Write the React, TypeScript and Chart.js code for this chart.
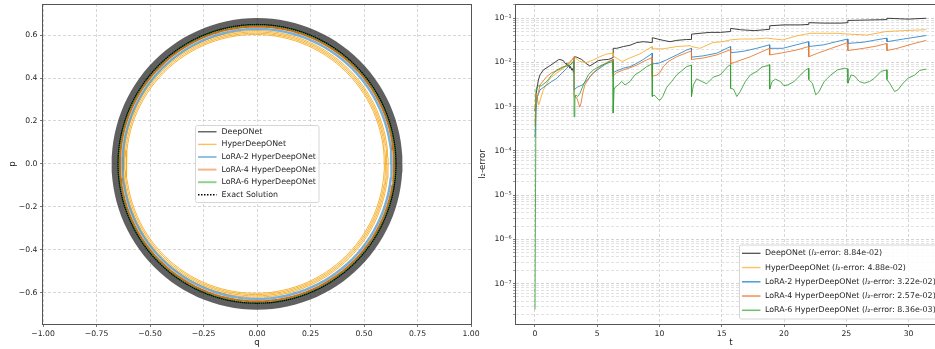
import React, { useEffect, useRef } from 'react';
import { Chart, registerables } from 'chart.js';

Chart.register(...registerables);

const FONT = '"DejaVu Sans", "Liberation Sans", sans-serif';

// ---------------- Left panel: phase portrait (q, p) ----------------
// radius of each traced loop of every model
const deepOnetLoopRadii = [0.652, 0.6547, 0.6574, 0.6601, 0.6628, 0.6655, 0.6682, 0.6709, 0.6736, 0.6763];
const hyperLoopRadii = [0.603, 0.609, 0.615, 0.621];
const lora2LoopRadii = [0.626, 0.629, 0.632];
const lora4LoopRadii = [0.639, 0.642];
const lora6LoopRadii = [0.646, 0.649];
const exactLoopRadii = [0.6495];
const hyperLoopCentreQ = -0.008;

const phaseLabels = [
  'DeepONet',
  'HyperDeepONet',
  'LoRA-2 HyperDeepONet',
  'LoRA-4 HyperDeepONet',
  'LoRA-6 HyperDeepONet',
  'Exact Solution',
];

const qTicks = [-1, -0.75, -0.5, -0.25, 0, 0.25, 0.5, 0.75, 1];
const qTickLabels = ['−1.00', '−0.75', '−0.50', '−0.25', '0.00', '0.25', '0.50', '0.75', '1.00'];
const pTicks = [-0.6, -0.4, -0.2, 0, 0.2, 0.4, 0.6];
const pTickLabels = ['−0.6', '−0.4', '−0.2', '0.0', '0.2', '0.4', '0.6'];

// ---------------- Right panel: l2-error vs t ----------------
const errorLabels = [
  'DeepONet (l₂-error: 8.84e-02)',
  'HyperDeepONet (l₂-error: 4.88e-02)',
  'LoRA-2 HyperDeepONet (l₂-error: 3.22e-02)',
  'LoRA-4 HyperDeepONet (l₂-error: 2.57e-02)',
  'LoRA-6 HyperDeepONet (l₂-error: 8.36e-03)',
];

// [t, l2-error]
const deepOnetError: [number, number][] = [
  [0, 8e-4], [0.1, 2e-3], [0.27, 4e-3], [0.4, 5.25e-3], [0.67, 6.76e-3], [1.08, 8.04e-3],
  [1.48, 9.55e-3], [1.88, 1.15e-2], [2.0, 1.17e-2], [2.28, 1.1e-2], [2.4, 9.8e-3], [2.5, 9.0e-3],
  [2.55, 9.6e-3], [2.65, 8.2e-3], [2.7, 8.9e-3], [2.8, 7.4e-3], [2.85, 8.1e-3], [2.95, 6.7e-3],
  [3.0, 7.3e-3], [3.1, 6.0e-3], [3.14, 1.35e-2], [3.35, 1.32e-2], [3.75, 1.17e-2], [4.15, 9.33e-3],
  [4.4, 8.32e-3], [4.68, 9.33e-3], [5.08, 1.1e-2], [5.49, 1.15e-2], [5.9, 1.17e-2], [6.27, 1.29e-2],
  [6.28, 2.09e-2], [6.56, 2.09e-2], [7.1, 2.29e-2], [7.63, 2.45e-2], [8.17, 2.82e-2], [8.7, 2.95e-2],
  [9.41, 2.82e-2], [9.42, 3.63e-2], [10.3, 3.16e-2], [10.85, 2.95e-2], [11.38, 3.16e-2], [12.18, 3.31e-2],
  [12.56, 3.31e-2], [12.57, 4.37e-2], [13.25, 4.57e-2], [14.06, 4.79e-2], [14.9, 4.79e-2], [15.70, 5.01e-2],
  [15.71, 5.89e-2], [16.5, 5.5e-2], [17.6, 5.25e-2], [18.84, 5.62e-2], [18.85, 6.76e-2], [20.0, 7.08e-2],
  [21.3, 7.08e-2], [21.98, 7.24e-2], [21.99, 7.94e-2], [23.2, 7.76e-2], [24.6, 7.76e-2], [25.12, 7.94e-2],
  [25.13, 8.91e-2], [26.7, 9.12e-2], [28.26, 9.33e-2], [28.27, 0.1], [29.96, 9.55e-2], [31.42, 0.1],
];

const hyperError: [number, number][] = [
  [0, 8.5e-4], [0.1, 2.0e-3], [0.3, 1.1e-3], [0.67, 2.4e-3], [1.2, 4.37e-3], [1.74, 5.75e-3],
  [2.28, 7.41e-3], [2.81, 9.55e-3], [3.13, 1.35e-2], [3.6, 1.05e-2], [4.15, 1.0e-2], [4.7, 1.15e-2],
  [5.2, 1.35e-2], [5.75, 1.55e-2], [6.27, 1.62e-2], [6.28, 1.4e-2], [7.0, 1.05e-2], [7.6, 1.26e-2],
  [8.4, 1.55e-2], [9.41, 2.29e-2], [9.42, 2.04e-2], [10.3, 2.04e-2], [11.4, 2.29e-2], [12.45, 2.4e-2],
  [12.57, 2.29e-2], [13.25, 2.09e-2], [14.3, 2.82e-2], [15.1, 2.95e-2], [15.7, 3.24e-2], [16.5, 3.39e-2],
  [17.6, 3.39e-2], [18.6, 3.55e-2], [19.9, 3.24e-2], [21.0, 3.98e-2], [22.1, 4.57e-2], [24.2, 4.57e-2],
  [25.3, 4.37e-2], [26.7, 4.17e-2], [28.2, 5.01e-2], [29.6, 5.25e-2], [31.42, 5.5e-2],
];

const lora2Error: [number, number][] = [
  [0, 2e-4], [0.08, 8.5e-4], [0.2, 1.7e-3], [0.4, 2.4e-3], [0.94, 3.09e-3], [1.35, 3.72e-3],
  [1.75, 4.37e-3], [2.15, 5.7e-3], [2.55, 7.4e-3], [2.95, 9.55e-3], [3.13, 1.1e-2], [3.14, 2.4e-3],
  [3.38, 2.75e-3], [3.79, 3.09e-3], [4.2, 3.98e-3], [4.6, 5.5e-3], [5.0, 6.76e-3], [5.55, 8.7e-3],
  [6.08, 1.1e-2], [6.27, 1.17e-2], [6.28, 5.89e-3], [6.56, 6.46e-3], [7.1, 7.41e-3], [7.63, 8.04e-3],
  [8.17, 9.55e-3], [8.7, 1.17e-2], [9.24, 1.48e-2], [9.41, 1.62e-2], [9.42, 9.33e-3], [9.91, 9.55e-3],
  [10.58, 1.15e-2], [11.38, 1.48e-2], [12.18, 1.91e-2], [12.56, 2.09e-2], [12.57, 1.32e-2], [13.5, 1.41e-2],
  [14.6, 1.62e-2], [15.4, 2.09e-2], [15.70, 2.29e-2], [15.71, 1.66e-2], [16.7, 1.78e-2], [17.8, 2.09e-2],
  [18.84, 2.51e-2], [18.85, 2.09e-2], [19.9, 2.09e-2], [21.0, 2.51e-2], [21.98, 2.95e-2], [21.99, 2.29e-2],
  [23.2, 2.51e-2], [24.2, 2.95e-2], [25.12, 3.39e-2], [25.13, 2.69e-2], [26.4, 2.88e-2], [27.4, 3.24e-2],
  [28.26, 3.55e-2], [28.27, 2.95e-2], [29.6, 3.39e-2], [31.42, 4.07e-2],
];

const lora4Error: [number, number][] = [
  [0, 4e-4], [0.08, 1.2e-3], [0.2, 1.7e-3], [0.4, 3.09e-3], [0.94, 4.79e-3], [1.35, 5.89e-3],
  [1.75, 6.46e-3], [2.15, 7.41e-3], [2.55, 8.71e-3], [2.95, 1.15e-2], [3.13, 1.29e-2], [3.14, 1.7e-3],
  [3.35, 1.6e-3], [3.5, 1.2e-3], [3.59, 9.8e-4], [3.7, 1.2e-3], [3.83, 2.0e-3], [4.0, 3.09e-3],
  [4.44, 4.9e-3], [4.84, 6.46e-3], [5.22, 8.04e-3], [5.75, 1.0e-2], [6.27, 1.17e-2], [6.28, 4.9e-3],
  [6.56, 5.89e-3], [7.1, 6.76e-3], [7.63, 7.59e-3], [8.17, 8.71e-3], [8.7, 1.05e-2], [9.24, 1.23e-2],
  [9.41, 1.29e-2], [9.42, 4.9e-3], [9.78, 5.2e-3], [10.04, 5.9e-3], [10.3, 8.0e-3], [10.7, 1.05e-2],
  [11.38, 1.35e-2], [12.18, 1.66e-2], [12.56, 1.82e-2], [12.57, 1.17e-2], [13.5, 1.26e-2], [14.6, 1.48e-2],
  [15.70, 1.95e-2], [15.71, 9.3e-3], [16.2, 1.05e-2], [17.3, 1.35e-2], [18.84, 2.09e-2], [18.85, 1.48e-2],
  [19.9, 1.66e-2], [21.0, 1.91e-2], [21.98, 2.29e-2], [21.99, 1.35e-2], [22.7, 1.62e-2], [23.8, 2.09e-2],
  [25.12, 2.82e-2], [25.13, 1.86e-2], [26.4, 2.09e-2], [27.4, 2.34e-2], [28.26, 2.69e-2], [28.27, 1.86e-2],
  [29.1, 2.09e-2], [30.2, 2.57e-2], [31.42, 3.16e-2],
];

const lora6Error: [number, number][] = [
  [0, 2.6e-8], [0.08, 2.4e-3], [0.2, 2.95e-3], [0.5, 2.95e-3], [0.95, 3.72e-3], [1.35, 5.25e-3],
  [1.75, 6.76e-3], [2.3, 8.04e-3], [2.8, 8.71e-3], [3.13, 1.05e-2], [3.14, 5.9e-4], [3.2, 1.5e-3],
  [3.27, 1.84e-3], [3.43, 1.7e-3], [3.61, 2.0e-3], [3.88, 3.09e-3], [4.28, 5.25e-3], [4.68, 6.76e-3],
  [5.22, 8.32e-3], [5.75, 9.55e-3], [6.27, 1.05e-2], [6.28, 7.2e-4], [6.35, 2.4e-3], [6.43, 2.75e-3],
  [6.69, 3.09e-3], [6.96, 3.72e-3], [7.23, 3.09e-3], [7.63, 3.72e-3], [8.03, 5.25e-3], [8.43, 6.17e-3],
  [8.97, 8.04e-3], [9.41, 9.33e-3], [9.42, 1.7e-3], [9.56, 1.84e-3], [9.7, 1.7e-3], [9.91, 1.45e-3],
  [10.04, 1.4e-3], [10.26, 1.7e-3], [10.58, 2.75e-3], [10.98, 3.72e-3], [11.38, 5.25e-3], [11.78, 6.46e-3],
  [12.18, 8.04e-3], [12.56, 8.7e-3], [12.57, 1.7e-3], [12.72, 3.09e-3], [12.98, 4.27e-3], [13.39, 3.72e-3],
  [13.79, 3.3e-3], [14.33, 4.68e-3], [14.87, 5.25e-3], [15.54, 8.4e-3], [15.70, 8.9e-3], [15.71, 2.6e-3],
  [15.94, 2.5e-3], [16.21, 1.7e-3], [16.48, 2.2e-3], [16.89, 3.7e-3], [17.29, 5.2e-3], [17.83, 6.3e-3],
  [18.23, 7.9e-3], [18.64, 8.4e-3], [18.84, 8.9e-3], [18.85, 2.5e-3], [19.04, 3.7e-3], [19.31, 4.2e-3],
  [19.72, 3.7e-3], [19.99, 3.0e-3], [20.31, 3.1e-3], [20.8, 3.7e-3], [21.33, 5.2e-3], [21.74, 6.8e-3],
  [21.98, 7.4e-3], [21.99, 4.1e-3], [22.28, 3.4e-3], [22.55, 1.85e-3], [22.82, 2.2e-3], [23.22, 3.7e-3],
  [23.76, 5.2e-3], [24.3, 6.8e-3], [24.84, 7.4e-3], [25.12, 7.2e-3], [25.13, 3.4e-3], [25.38, 5.2e-3],
  [25.65, 5.0e-3], [26.05, 3.7e-3], [26.46, 3.4e-3], [26.86, 3.7e-3], [27.26, 4.4e-3], [27.8, 6.3e-3],
  [28.26, 6.8e-3], [28.27, 4.1e-3], [28.48, 3.4e-3], [28.88, 2.2e-3], [29.15, 2.4e-3], [29.56, 3.4e-3],
  [29.96, 4.4e-3], [30.5, 5.2e-3], [30.9, 6.6e-3], [31.42, 7.1e-3],
];

const tTicks = [0, 5, 10, 15, 20, 25, 30];
const tTickLabels = ['0', '5', '10', '15', '20', '25', '30'];
const errorMajorTicks = [1e-7, 1e-6, 1e-5, 1e-4, 1e-3, 1e-2, 1e-1];
const errorTickLabels = ['10⁻⁷', '10⁻⁶', '10⁻⁵', '10⁻⁴', '10⁻³', '10⁻²', '10⁻¹'];

// ---------------- helpers ----------------
const LOOP_STEPS = 120;
function loopsToPoints(radii: number[], cq = 0, cp = 0) {
  const pts: { x: number; y: number }[] = [];
  radii.forEach((r) => {
    for (let k = 0; k <= LOOP_STEPS; k++) {
      const a = (k / LOOP_STEPS) * 2 * Math.PI;
      pts.push({ x: cq + r * Math.cos(a), y: cp + r * Math.sin(a) });
    }
  });
  return pts;
}
const toXY = (s: [number, number][]) => s.map(([x, y]) => ({ x, y }));

const TICK_FONT = { family: FONT, size: 7.7 };
const TITLE_FONT = { family: FONT, size: 8.6 };
const TEXT = '#262626';

function drawLabel(ctx: CanvasRenderingContext2D, text: string, x: number, y: number, size: number) {
  const normal = `${size}px ${FONT}`;
  const i = text.indexOf('l₂');
  ctx.font = normal;
  if (i < 0) {
    ctx.fillText(text, x, y);
    return;
  }
  const a = text.slice(0, i);
  const c = text.slice(i + 1);
  ctx.fillText(a, x, y);
  let cx = x + ctx.measureText(a).width;
  ctx.font = `italic ${size}px ${FONT}`;
  ctx.fillText('l', cx, y);
  cx += ctx.measureText('l').width;
  ctx.font = normal;
  ctx.fillText(c, cx, y);
}

const framePlugin = {
  id: 'frame',
  afterDatasetsDraw(chart: any) {
    const { ctx, chartArea: a } = chart;
    ctx.save();
    ctx.strokeStyle = '#555';
    ctx.lineWidth = 1;
    ctx.setLineDash([]);
    ctx.strokeRect(Math.round(a.left) - 0.5, Math.round(a.top) + 0.5, Math.round(a.right - a.left) + 1, Math.round(a.bottom - a.top));
    ctx.restore();
  },
};

const boxLegendPlugin = {
  id: 'boxLegend',
  afterDraw(chart: any, _args: any, opts: any) {
    if (!opts || !opts.display) return;
    const { ctx } = chart;
    const { x, y, width, height, firstRow, rowHeight, sampleX, sampleW, textX, fontSize } = opts;
    ctx.save();
    ctx.beginPath();
    const r = 2;
    ctx.moveTo(x + r, y);
    ctx.lineTo(x + width - r, y);
    ctx.arcTo(x + width, y, x + width, y + r, r);
    ctx.lineTo(x + width, y + height - r);
    ctx.arcTo(x + width, y + height, x + width - r, y + height, r);
    ctx.lineTo(x + r, y + height);
    ctx.arcTo(x, y + height, x, y + height - r, r);
    ctx.lineTo(x, y + r);
    ctx.arcTo(x, y, x + r, y, r);
    ctx.closePath();
    ctx.fillStyle = 'rgba(255,255,255,0.85)';
    ctx.fill();
    ctx.strokeStyle = '#d6d6d6';
    ctx.lineWidth = 1;
    ctx.stroke();
    chart.data.datasets.forEach((ds: any, i: number) => {
      const cy = y + firstRow + i * rowHeight;
      ctx.strokeStyle = ds.legendColor;
      ctx.lineWidth = ds.legendWidth || 1.2;
      ctx.setLineDash(ds.legendDash || []);
      ctx.beginPath();
      ctx.moveTo(x + sampleX, cy);
      ctx.lineTo(x + sampleX + sampleW, cy);
      ctx.stroke();
      ctx.setLineDash([]);
      ctx.fillStyle = TEXT;
      ctx.textBaseline = 'middle';
      ctx.textAlign = 'left';
      drawLabel(ctx, ds.label, x + textX, cy, fontSize);
    });
    ctx.restore();
  },
};

function findLabel(v: number, ticks: number[], labels: string[]) {
  for (let i = 0; i < ticks.length; i++) {
    if (Math.abs(ticks[i] - v) <= Math.abs(ticks[i]) * 1e-6 + 1e-9) return labels[i];
  }
  return '';
}

const gridBase = {
  color: '#cdcdcd',
  lineWidth: 0.8,
  tickColor: '#555',
  tickLength: 3,
  tickWidth: 0.8,
  tickBorderDash: [],
};

export default function App() {
  const leftRef = useRef<HTMLCanvasElement>(null);
  const rightRef = useRef<HTMLCanvasElement>(null);

  useEffect(() => {
    const phaseSeries = [
      { pts: loopsToPoints(deepOnetLoopRadii), color: 'rgba(20,20,20,0.68)', w: 1.4, lc: '#444444', lw: 1.2 },
      { pts: loopsToPoints(hyperLoopRadii, hyperLoopCentreQ), color: 'rgba(245,172,35,0.9)', w: 1, lc: '#f7c162', lw: 1.4 },
      { pts: loopsToPoints(lora2LoopRadii), color: 'rgba(75,150,200,0.75)', w: 1.2, lc: '#62a9d6', lw: 1.4 },
      { pts: loopsToPoints(lora4LoopRadii), color: 'rgba(210,100,10,0.95)', w: 1.4, lc: '#f3b68c', lw: 2 },
      { pts: loopsToPoints(lora6LoopRadii), color: 'rgba(44,140,44,0.7)', w: 1.2, lc: '#8fd28f', lw: 2 },
      { pts: loopsToPoints(exactLoopRadii), color: '#000000', w: 1.3, lc: '#000000', lw: 1.4, dash: [1.6, 0.5] },
    ];
    const n1 = phaseSeries.length;
    const leftSets = phaseSeries.map((s, i) => ({
      label: phaseLabels[i],
      data: s.pts,
      borderColor: s.color,
      borderWidth: s.w,
      borderDash: s.dash || [],
      pointRadius: 0,
      fill: false,
      tension: 0,
      order: n1 - i,
      legendColor: s.lc,
      legendWidth: s.lw,
      legendDash: s.dash ? [1.5, 1.5] : undefined,
    }));

    const left = new Chart(leftRef.current!, {
      type: 'line',
      data: { datasets: leftSets as any },
      options: {
        animation: false,
        responsive: false,
        events: [],
        layout: { padding: { left: 0, right: 9, top: 4, bottom: 0 } },
        plugins: {
          legend: { display: false },
          tooltip: { enabled: false },
          boxLegend: {
            display: true, x: 195.5, y: 125.5, width: 123.5, height: 77,
            firstRow: 6.3, rowHeight: 12.6, sampleX: 2.5, sampleW: 18.5, textX: 26, fontSize: 7.9,
          },
        } as any,
        scales: {
          x: {
            type: 'linear', min: -1, max: 1,
            afterBuildTicks: (s: any) => { s.ticks = qTicks.map((v) => ({ value: v })); },
            afterFit: (s: any) => { s.height = 25; s.paddingLeft = 0; s.paddingRight = 0; },
            ticks: { autoSkip: false, maxRotation: 0, padding: 2, font: TICK_FONT, color: TEXT,
              callback: (v: any) => findLabel(Number(v), qTicks, qTickLabels) },
            grid: gridBase,
            border: { display: false, dash: [3, 2] },
            title: { display: true, text: 'q', font: TITLE_FONT, color: TEXT, padding: { top: 0, bottom: 1 } },
          },
          y: {
            type: 'linear', min: -0.746, max: 0.745,
            afterBuildTicks: (s: any) => { s.ticks = pTicks.map((v) => ({ value: v })); },
            afterFit: (s: any) => { s.width = 43; s.paddingTop = 0; s.paddingBottom = 0; },
            ticks: { autoSkip: false, padding: 2.5, font: TICK_FONT, color: TEXT,
              callback: (v: any) => findLabel(Number(v), pTicks, pTickLabels) },
            grid: gridBase,
            border: { display: false, dash: [3, 2] },
            title: { display: true, text: 'p', font: TITLE_FONT, color: TEXT, padding: { top: 8, bottom: 0 } },
          },
        },
      } as any,
      plugins: [framePlugin, boxLegendPlugin],
    });

    const errorSeries = [
      { d: deepOnetError, color: 'rgba(30,30,30,0.85)', w: 1, lc: '#444444', lw: 1.2 },
      { d: hyperError, color: 'rgba(250,170,40,0.85)', w: 1, lc: '#f9c56c', lw: 1.5 },
      { d: lora2Error, color: 'rgba(40,130,200,0.85)', w: 1, lc: '#4c9bd5', lw: 1.5 },
      { d: lora4Error, color: 'rgba(230,115,40,0.85)', w: 1, lc: '#f0aa7c', lw: 2 },
      { d: lora6Error, color: 'rgba(50,160,50,0.85)', w: 1, lc: '#6cc06c', lw: 1.5 },
    ];
    const n2 = errorSeries.length;
    const rightSets = errorSeries.map((s, i) => ({
      label: errorLabels[i],
      data: toXY(s.d),
      borderColor: s.color,
      borderWidth: s.w,
      pointRadius: 0,
      fill: false,
      tension: 0,
      order: n2 - i,
      legendColor: s.lc,
      legendWidth: s.lw,
    }));

    const allLogTicks: number[] = [];
    for (let e = -8; e <= -1; e++) {
      for (let k = 1; k <= 9; k++) {
        const v = k * Math.pow(10, e);
        if (v >= 1.2e-8 && v <= 0.21) allLogTicks.push(v);
      }
    }
    const isMajor = (v: number) => errorMajorTicks.some((m) => Math.abs(m - v) < m * 1e-6);

    const right = new Chart(rightRef.current!, {
      type: 'line',
      data: { datasets: rightSets as any },
      options: {
        animation: false,
        responsive: false,
        events: [],
        layout: { padding: { left: 0, right: 14, top: 4, bottom: 0 } },
        plugins: {
          legend: { display: false },
          tooltip: { enabled: false },
          boxLegend: {
            display: true, x: 269.5, y: 245, width: 260, height: 74,
            firstRow: 8.3, rowHeight: 14.25, sampleX: 2.5, sampleW: 18.5, textX: 25.5, fontSize: 7.9,
          },
        } as any,
        scales: {
          x: {
            type: 'linear', min: -1.526, max: 33.01,
            afterBuildTicks: (s: any) => { s.ticks = tTicks.map((v) => ({ value: v })); },
            afterFit: (s: any) => { s.height = 25; s.paddingLeft = 0; s.paddingRight = 0; },
            ticks: { autoSkip: false, maxRotation: 0, padding: 2, font: TICK_FONT, color: TEXT,
              callback: (v: any) => findLabel(Number(v), tTicks, tTickLabels) },
            grid: gridBase,
            border: { display: false, dash: [3, 2] },
            title: { display: true, text: 't', font: TITLE_FONT, color: TEXT, padding: { top: 0, bottom: 1 } },
          },
          y: {
            type: 'logarithmic', min: 1.22e-8, max: 0.21,
            afterBuildTicks: (s: any) => { s.ticks = allLogTicks.map((v) => ({ value: v })); },
            afterFit: (s: any) => { s.width = 46; s.paddingTop = 0; s.paddingBottom = 0; },
            ticks: { autoSkip: false, padding: 1.5, font: TICK_FONT, color: TEXT,
              callback: (v: any) => findLabel(Number(v), errorMajorTicks, errorTickLabels) },
            grid: {
              ...gridBase,
              color: (c: any) => (c.tick && isMajor(c.tick.value) ? '#c8c8c8' : '#dadada'),
              tickColor: (c: any) => (c.tick && isMajor(c.tick.value) ? '#555' : '#888'),
            },
            border: { display: false, dash: [3, 2] },
            title: { display: true, text: 'l₂-error', font: TITLE_FONT, color: TEXT, padding: { top: 8, bottom: 0 } },
          },
        },
      } as any,
      plugins: [framePlugin, boxLegendPlugin],
    });

    return () => {
      left.destroy();
      right.destroy();
    };
  }, []);

  return (
    <div style={{ position: 'fixed', left: 0, top: 0, width: 935, height: 349, overflow: 'hidden', background: '#fff' }}>
      <canvas ref={leftRef} width={480} height={349} style={{ position: 'absolute', left: 0, top: 0 }} />
      <canvas ref={rightRef} width={490} height={349} style={{ position: 'absolute', left: 470, top: 0 }} />
    </div>
  );
}
